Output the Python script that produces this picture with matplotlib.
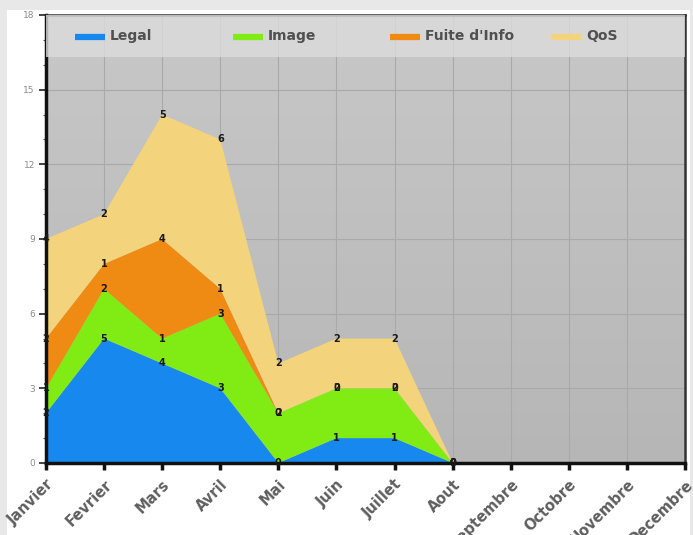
import numpy as np
import matplotlib
matplotlib.use("Agg")
import matplotlib.pyplot as plt
from matplotlib.lines import Line2D
from matplotlib.patches import Rectangle

months = ["Janvier", "Fevrier", "Mars", "Avril", "Mai", "Juin", "Juillet",
          "Aout", "Septembre", "Octobre", "Novembre", "Decembre"]
series_names = ["Legal", "Image", "Fuite d'Info", "QoS"]
legal = [2, 5, 4, 3, 0, 1, 1, 0]
image = [1, 2, 1, 3, 2, 2, 2, 0]
fuite = [2, 1, 4, 1, 0, 0, 0, 0]
qos = [4, 2, 5, 6, 2, 2, 2, 0]
colors = ["#1789ee", "#80ec14", "#ef8a13", "#f3d37c"]
y_ticks = [0, 3, 6, 9, 12, 15, 18]

W, H = 693, 535
fig = plt.figure(figsize=(W / 100, H / 100), dpi=100, facecolor="#e8e8e8")
fig.patches.append(Rectangle((7 / W, 0), (W - 10) / W, (H - 10) / H,
                             transform=fig.transFigure, facecolor="white",
                             edgecolor="none", zorder=-10))

ax = fig.add_axes([46 / W, (H - 463) / H, (685 - 46) / W, (463 - 15) / H])
ax.set_xlim(0, len(months) - 1)
ax.set_ylim(0, 18)

# gradient background of the plotting area
grad = np.linspace(0, 1, 256).reshape(-1, 1)
ax.imshow(grad, extent=(0, 1, 0, 1), transform=ax.transAxes, aspect="auto",
          cmap=matplotlib.colors.LinearSegmentedColormap.from_list(
              "bg", ["#b6b6b6", "#c8c8c8"]),
          origin="lower", zorder=0)

ax.grid(True, color="#a9a9a9", linewidth=0.8, zorder=1)
ax.set_axisbelow(True)

x = np.arange(len(legal))
data = [legal, image, fuite, qos]
ax.stackplot(x, *data, colors=colors, linewidth=0, zorder=2)

# value labels at the top of each stacked layer
cum = np.zeros(len(x))
for vals in data:
    cum = cum + np.array(vals)
    for xi, (v, c) in enumerate(zip(vals, cum)):
        ax.text(xi, c, str(v), ha="center", va="center", fontsize=7,
                fontweight="bold", color="#1a1a1a", zorder=5)

# legend band across the top
ax.add_patch(Rectangle((0, 0.906), 1, 0.094, transform=ax.transAxes,
                       facecolor="#dcdcdc", alpha=0.8, edgecolor="none",
                       zorder=3))
leg_x = [29, 187, 344, 505]
for name, col, lx in zip(series_names, colors, leg_x):
    x0 = lx / (685 - 46)
    ax.add_line(Line2D([x0, x0 + 30 / 639], [0.951, 0.951], color=col,
                       linewidth=4.5, solid_capstyle="butt",
                       transform=ax.transAxes, zorder=4))
    ax.text(x0 + 35 / 639, 0.953, name, transform=ax.transAxes,
            ha="left", va="center", fontsize=10, fontweight="bold",
            color="#505050", family="DejaVu Sans", zorder=4)

ax.set_yticks(y_ticks)
ax.set_yticklabels([str(t) for t in y_ticks])
ax.set_yticks(np.arange(0, 19, 1), minor=True)
ax.tick_params(axis="y", which="major", labelsize=6.5, labelcolor="#8a8a8a",
               color="#222222", length=5, width=1.2, pad=3)
ax.tick_params(axis="y", which="minor", color="#555555", length=2, width=0.8)

ax.set_xticks(np.arange(len(months)))
ax.set_xticklabels(months, rotation=45, ha="right", rotation_mode="anchor",
                   fontsize=10.5, fontweight="bold", color="#5e5e5e",
                   family="DejaVu Sans")
ax.tick_params(axis="x", color="#111111", length=5, width=2.5, pad=5)

for side in ["left", "bottom"]:
    ax.spines[side].set_linewidth(2.5)
    ax.spines[side].set_color("#111111")
for side in ["top", "right"]:
    ax.spines[side].set_linewidth(1.8)
    ax.spines[side].set_color("#333333")

fig.savefig("out.png", dpi=100, facecolor=fig.get_facecolor())
